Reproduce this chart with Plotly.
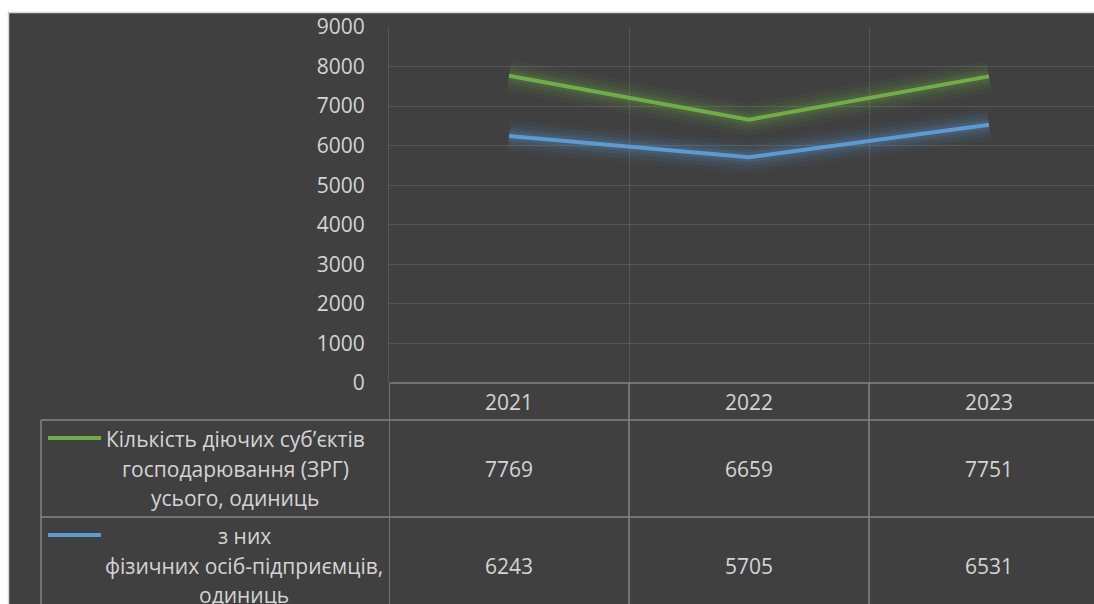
import plotly.graph_objects as go

# ---- data ----
years = ["2021", "2022", "2023"]
total_name_lines = ["Кількість діючих суб’єктів", "господарювання (ЗРГ)", "усього, одиниць"]
total_values = [7769, 6659, 7751]
fop_name_lines = ["з них", "фізичних осіб-підприємців,", "одиниць"]
fop_values = [6243, 5705, 6531]
y_ticks = [0, 1000, 2000, 3000, 4000, 5000, 6000, 7000, 8000, 9000]

W, H = 1094, 604
BG = "#404040"
GRID = "#575757"
TLINE = "#858585"
TXT = "#d4d4d4"
GREEN = "#70ad47"
BLUE = "#5b9bd5"
FONT = "Open Sans"
FS = 21


def px(x):
    return x / W


def py(y):
    return 1 - y / H


fig = go.Figure()

# soft glow layers + lines
for vals, rgb, col in [(total_values, "112,173,71", GREEN), (fop_values, "91,155,213", BLUE)]:
    for w, a in [(32, 0.05), (24, 0.07), (16, 0.10), (10, 0.14)]:
        fig.add_trace(go.Scatter(x=years, y=vals, mode="lines",
                                 line=dict(color=f"rgba({rgb},{a})", width=w),
                                 hoverinfo="skip", showlegend=False))
    fig.add_trace(go.Scatter(x=years, y=vals, mode="lines",
                             line=dict(color=col, width=4),
                             showlegend=False))

shapes = []
annotations = []

# white outer margin and light border
shapes.append(dict(type="rect", xref="paper", yref="paper", x0=0, x1=px(8), y0=0, y1=1,
                   fillcolor="white", line=dict(width=0), layer="above"))
shapes.append(dict(type="rect", xref="paper", yref="paper", x0=0, x1=1, y0=py(12), y1=1,
                   fillcolor="white", line=dict(width=0), layer="above"))
shapes.append(dict(type="line", xref="paper", yref="paper", x0=px(8.5), x1=px(8.5), y0=0, y1=py(12.5),
                   line=dict(color="#d6d6d6", width=1.5), layer="above"))
shapes.append(dict(type="line", xref="paper", yref="paper", x0=px(8.5), x1=1, y0=py(12.5), y1=py(12.5),
                   line=dict(color="#d6d6d6", width=1.5), layer="above"))

# data table grid
def hline(y, x0, x1):
    shapes.append(dict(type="line", xref="paper", yref="paper", x0=px(x0), x1=px(x1), y0=py(y), y1=py(y),
                       line=dict(color=TLINE, width=1.5)))

hline(383, 390, W)
hline(420, 41, W)
hline(517, 41, W)
shapes.append(dict(type="line", xref="paper", yref="paper", x0=px(41), x1=px(41), y0=py(420), y1=0,
                   line=dict(color=TLINE, width=1.5)))
for b in [-0.5, 0.5, 1.5]:
    shapes.append(dict(type="line", xref="x", yref="paper", x0=b, x1=b, y0=py(383), y1=0,
                       line=dict(color=TLINE, width=1.5)))

# legend keys
shapes.append(dict(type="line", xref="paper", yref="paper", x0=px(48), x1=px(101), y0=py(438), y1=py(438),
                   line=dict(color=GREEN, width=4)))
shapes.append(dict(type="line", xref="paper", yref="paper", x0=px(48), x1=px(101), y0=py(535), y1=py(535),
                   line=dict(color=BLUE, width=4)))

# table texts
def ann(x, xref, y, text):
    annotations.append(dict(x=x, xref=xref, y=y, yref="paper", text=text, showarrow=False,
                            xanchor="center", yanchor="middle", align="center",
                            font=dict(family=FONT, size=FS, color=TXT)))

for i, yr in enumerate(years):
    ann(i, "x", py(402), yr)
    ann(i, "x", py(469), str(total_values[i]))
    ann(i, "x", py(566), str(fop_values[i]))

for k, line in enumerate(total_name_lines):
    ann(px(235), "paper", py(439 + 29.5 * k), line)
for k, line in enumerate(fop_name_lines):
    ann(px(244), "paper", py(536 + 29.5 * k), line)

fig.update_layout(
    width=W, height=H,
    margin=dict(l=0, r=0, t=0, b=0, autoexpand=False),
    paper_bgcolor=BG, plot_bgcolor=BG,
    showlegend=False,
    shapes=shapes,
    annotations=annotations,
    xaxis=dict(type="category", domain=[px(389), 1], range=[-0.5, -0.5 + (W - 389) / 240.0],
               tickson="boundaries", showgrid=True, gridcolor=GRID, gridwidth=1,
               showticklabels=False, ticks="", zeroline=False, showline=False, fixedrange=True,
               automargin=False),
    yaxis=dict(domain=[py(383), py(27)], range=[0, 9000], tickvals=y_ticks,
               showgrid=True, gridcolor=GRID, gridwidth=1, zeroline=False,
               showline=True, linecolor=GRID, linewidth=1,
               ticks="", ticklabelstandoff=19, automargin=False,
               tickfont=dict(family=FONT, size=FS, color=TXT), fixedrange=True),
)

fig.write_html("out.html", post_script="document.body.style.margin='0';",
               config={"displayModeBar": False})
